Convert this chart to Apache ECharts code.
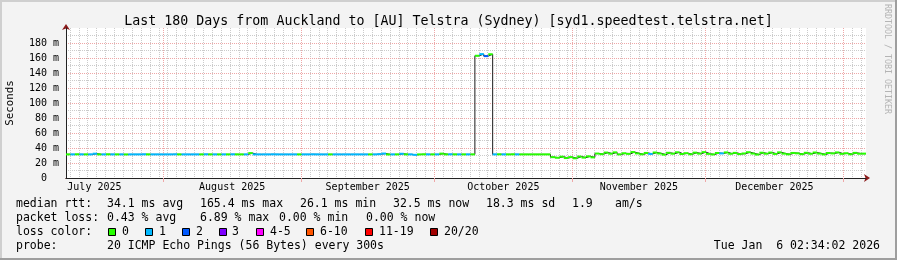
<!DOCTYPE html>
<html><head><meta charset="utf-8">
<script src="https://cdn.jsdelivr.net/npm/echarts@6/dist/echarts.min.js"></script>
<style>html,body{margin:0;padding:0;background:#f3f3f3}#c{width:897px;height:260px}</style>
</head><body><div id="c"></div>
<script>
// ---------- data ----------
const startTime = Date.UTC(2025, 6, 10, 2, 34, 2);
const DAY = 86400000;
const dayCount = 180;
const endTime = startTime + dayCount * DAY;

const monthStartDates = ['2025-07-01','2025-08-01','2025-09-01','2025-10-01','2025-11-01','2025-12-01','2026-01-01','2026-02-01'];
const monthLabels = ['July 2025','August 2025','September 2025','October 2025','November 2025','December 2025','January 2026'];

const yMax = 200;
const yLabelStep = 20;
const yMinorStep = 10;

// daily median rtt (ms), one value per day from startTime
const rtt = [
  31.5,31.5,31.6,31.5,31.5,31.5,32.4,31.5,31.5,31.6,
  31.5,31.5,31.5,31.4,31.5,31.5,31.5,31.6,31.5,31.5,
  31.5,31.5,31.5,31.5,31.6,31.5,31.5,31.5,31.5,31.5,
  31.5,31.6,31.5,31.5,31.5,31.5,31.5,31.6,31.5,31.5,
  31.5,33.2,31.5,31.5,31.5,31.5,31.6,31.5,31.5,31.5,
  31.5,31.5,31.5,31.5,31.5,31.6,31.5,31.5,31.5,31.5,
  31.5,31.5,31.5,31.5,31.5,31.5,31.5,31.5,31.5,31.5,
  31.8,32.6,31.4,31.5,31.5,32.3,31.5,31.5,30.9,31.5,
  31.6,31.5,31.5,31.5,32.5,31.5,31.6,31.5,31.5,31.5,
  31.5,31.5,163.0,165.2,162.5,165.0,31.5,31.6,31.5,31.5,
  31.6,31.5,31.5,31.5,31.5,31.5,31.5,31.5,31.5,27.8,
  27.0,28.4,26.6,27.9,26.3,28.6,27.2,28.9,27.5,32.6,
  31.8,33.9,32.4,34.2,31.5,33.0,32.2,34.6,32.8,31.6,
  33.4,32.1,34.0,32.7,31.2,33.6,32.4,34.3,32.0,33.1,
  31.7,33.8,32.5,34.5,32.2,31.4,33.3,32.8,34.1,32.3,
  33.5,31.9,32.7,34.4,32.6,31.3,33.7,32.4,33.9,32.1,
  34.2,32.5,31.6,33.4,32.9,31.8,33.6,32.3,34.0,32.6,
  31.5,33.3,32.8,34.1,32.2,33.0,31.7,33.5,32.4,32.5
];

// daily loss level index into lossColors (0 = no loss, 1 = 1 lost ping, 2 = 2 lost)
const lossLevel = [
  0,1,0,1,0,1,1,0,1,0,
  1,0,1,0,1,1,1,1,0,1,
  1,1,1,1,1,0,1,1,1,1,
  0,1,0,1,0,1,0,1,0,0,
  1,0,1,1,1,1,1,1,1,1,
  1,1,0,1,1,1,1,1,1,0,
  1,1,1,1,1,1,1,1,0,1,
  1,1,0,1,0,1,0,1,1,0,
  0,1,0,1,0,0,1,0,1,0,
  1,0,0,1,2,0,1,0,1,0,
  0,1,0,0,0,0,0,0,0,0,
  0,0,0,0,0,0,0,0,0,0,
  0,0,0,0,0,0,0,0,0,0,
  0,1,0,0,0,0,0,0,0,0,
  0,0,0,0,0,0,0,1,0,0,
  0,0,0,0,0,0,0,0,0,0,
  0,0,0,0,0,0,0,0,0,0,
  0,0,0,0,0,0,0,0,0,0
];

const lossNames = ['0','1','2','3','4-5','6-10','11-19','20/20'];
const lossColors = ['#26ff00','#00b8ff','#0059ff','#7e00ff','#ff00ff','#ff5500','#ff0000','#a10000'];

const statsLine1 = ['median rtt:','34.1 ms avg','165.4 ms max','26.1 ms min','32.5 ms now','18.3 ms sd','1.9','am/s'];
const statsLine2 = ['packet loss:','0.43 % avg','6.89 % max','0.00 % min','0.00 % now'];
const probeText = ['probe:','20 ICMP Echo Pings (56 Bytes) every 300s'];
const dateText = 'Tue Jan  6 02:34:02 2026';
const titleText = 'Last 180 Days from Auckland to [AU] Telstra (Sydney) [syd1.speedtest.telstra.net]';

// ---------- derived ----------
const monthStarts = monthStartDates.map(s => Date.parse(s + 'T00:00:00Z'));
const midMonths = [];
for (let i = 0; i < monthStarts.length - 1; i++) {
  const m = (monthStarts[i] + monthStarts[i + 1]) / 2;
  if (m > startTime && m < endTime) midMonths.push(m);
}
const monthGrid = monthStarts.filter(t => t > startTime && t < endTime);
const minorGrid = [];
{
  let t = Math.ceil(startTime / DAY) * DAY;
  for (; t < endTime; t += 2 * DAY) minorGrid.push(t);
}
function monthLabelFor(v) {
  for (let i = 0; i < monthStarts.length - 1; i++) {
    if (v >= monthStarts[i] && v < monthStarts[i + 1]) return monthLabels[i];
  }
  return '';
}
const stepData = rtt.map((v, i) => [startTime + i * DAY, v]);
stepData.push([endTime, rtt[rtt.length - 1]]);
const segData = rtt.map((v, i) => [startTime + i * DAY, v, startTime + (i + 1) * DAY, lossLevel[i]]);

const MONO = '"DejaVu Sans Mono", monospace';
const GRID_GRAY = '#cbcbcb';
const GRID_RED = '#eea7a7';
const ARROW = '#8b1a1a';
const AXIS = '#222222';

// ---------- graphics (text block, frame) ----------
const g = [];
g.push({type:'rect', shape:{x:0,y:0,width:897,height:2}, style:{fill:'#cfcfcf'}, silent:true});
g.push({type:'rect', shape:{x:0,y:0,width:2,height:260}, style:{fill:'#cfcfcf'}, silent:true});
g.push({type:'rect', shape:{x:895,y:0,width:2,height:260}, style:{fill:'#9e9e9e'}, silent:true});
g.push({type:'rect', shape:{x:0,y:258,width:897,height:2}, style:{fill:'#9e9e9e'}, silent:true});
const txtFont = '11.5px ' + MONO;
function addText(s, x, y, align) {
  g.push({type:'text', x:x, y:y, silent:true,
    style:{text:s, font:txtFont, fill:'#000', align:align || 'left', verticalAlign:'middle'}});
}
const line1X = [16, 107, 200, 300, 393, 486, 572, 615];
statsLine1.forEach((s, i) => addText(s, line1X[i], 204.5));
const line2X = [16, 107, 200, 279, 366];
statsLine2.forEach((s, i) => addText(s, line2X[i], 218.5));
addText('loss color:', 16, 232.5);
const boxX = [108, 145, 182, 219, 256, 306, 365, 430];
const lblX = [122, 159, 196, 232, 270, 320, 379, 444];
lossNames.forEach((n, i) => {
  g.push({type:'rect', silent:true, shape:{x:boxX[i]+0.5, y:228.5, width:7, height:7},
    style:{fill:lossColors[i], stroke:'#000', lineWidth:1}});
  addText(n, lblX[i], 232.5);
});
addText(probeText[0], 16, 246);
addText(probeText[1], 107, 246);
addText(dateText, 880, 246, 'right');
g.push({type:'text', x:887, y:59, rotation:-Math.PI/2, silent:true,
  style:{text:'RRDTOOL / TOBI OETIKER', font:'8.3px ' + MONO, fill:'#b4b4b4', align:'center', verticalAlign:'middle'}});

// ---------- chart ----------
const chart = echarts.init(document.getElementById('c'), null, {renderer:'canvas'});
chart.setOption({
  backgroundColor:'#f3f3f3',
  animation:false,
  title:{text:titleText, left:'center', top:10,
    textStyle:{fontFamily:MONO, fontSize:13.3, fontWeight:'normal', color:'#000'}},
  grid:{left:66, top:28, width:800, height:150, show:true, backgroundColor:'#ffffff', borderWidth:0,
    containLabel:false, outerBoundsMode:'none'},
  xAxis:[
    { type:'value', min:startTime, max:endTime, z:0, position:'bottom',
      axisLine:{show:true, lineStyle:{color:ARROW, width:1}, symbol:['none','arrow'], symbolSize:[6,6], symbolOffset:[0,4]},
      axisTick:{show:false, customValues:minorGrid},
      axisLabel:{show:false},
      splitLine:{show:true, lineStyle:{color:GRID_GRAY, type:[1,1], width:1}} },
    { type:'value', min:startTime, max:endTime, z:1, position:'bottom',
      axisLine:{show:true, lineStyle:{color:AXIS, width:1}},
      axisTick:{show:true, customValues:monthGrid, length:4, lineStyle:{color:GRID_RED}},
      axisLabel:{show:true, customValues:midMonths, formatter:v => monthLabelFor(v),
        fontFamily:MONO, fontSize:10, color:'#000', margin:4},
      splitLine:{show:true, lineStyle:{color:GRID_RED, type:[1,1], width:1}} }
  ],
  yAxis:[
    { type:'value', min:0, max:yMax, interval:yMinorStep, z:0, position:'left',
      axisLine:{show:true, lineStyle:{color:ARROW, width:1}, symbol:['none','arrow'], symbolSize:[6,6], symbolOffset:[0,4]},
      axisTick:{show:false}, axisLabel:{show:false},
      splitLine:{show:true, showMinLine:false, showMaxLine:false, lineStyle:{color:GRID_GRAY, type:[1,1], width:1}} },
    { type:'value', min:0, max:yMax, interval:yLabelStep, z:1, position:'left',
      name:'Seconds', nameLocation:'middle', nameGap:50,
      nameTextStyle:{fontFamily:MONO, fontSize:10.8, color:'#000'},
      axisLine:{show:true, lineStyle:{color:AXIS, width:1}},
      axisTick:{show:false},
      axisLabel:{show:true, showMaxLabel:false, margin:7, fontFamily:MONO, fontSize:10, color:'#000',
        formatter:v => (v === 0 ? '0  ' : v + ' m')},
      splitLine:{show:true, showMinLine:false, showMaxLine:false, lineStyle:{color:GRID_RED, type:[1,1], width:1}} }
  ],
  series:[
    { type:'line', name:'median', xAxisIndex:1, yAxisIndex:1, data:stepData, step:'end',
      symbol:'none', z:3, lineStyle:{color:'#1a1a1a', width:1}, silent:true },
    { type:'custom', name:'loss', xAxisIndex:1, yAxisIndex:1, data:segData, z:4, silent:true,
      encode:{x:[0,2], y:1},
      renderItem:function(params, api){
        const p0 = api.coord([api.value(0), api.value(1)]);
        const p1 = api.coord([api.value(2), api.value(1)]);
        return {type:'rect', shape:{x:p0[0], y:p0[1]-1, width:p1[0]-p0[0], height:2},
          style:{fill:lossColors[api.value(3)]}};
      } }
  ],
  graphic:g
});
</script></body></html>
